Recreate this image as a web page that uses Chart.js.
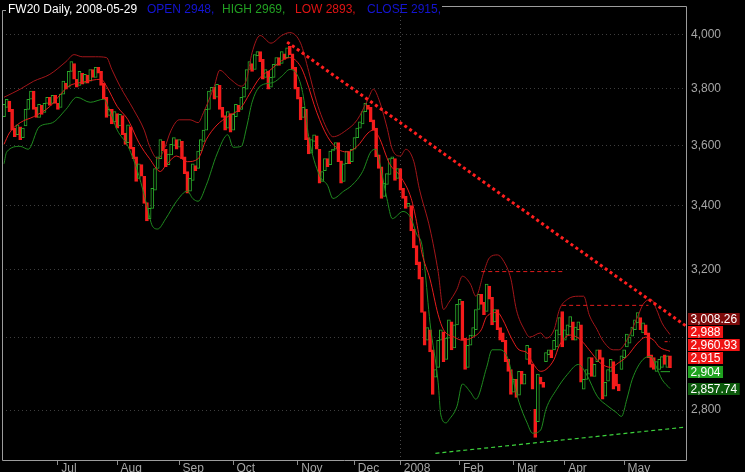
<!DOCTYPE html>
<html><head><meta charset="utf-8">
<script src="https://cdn.jsdelivr.net/npm/chart.js@4.4.1/dist/chart.umd.min.js"></script>
<style>html,body{margin:0;padding:0;background:#000;overflow:hidden}canvas{display:block}</style>
</head><body>
<canvas id="c" width="745" height="472"></canvas>
<script>
// ---- data (FW20 daily, bar index 0 = 2007-06-01, last = 2008-05-29) ----
const opens = [
3701,3734,3756,3727,3661,3638,3665,3628,3669,3727,
3763,3792,3734,3698,3741,3716,3748,3770,3748,3777,
3748,3734,3781,3821,3806,3864,3893,3835,3813,3857,
3821,3850,3828,3871,3842,3879,3864,3821,3770,3705,
3727,3683,3712,3669,3705,3644,3611,3665,3595,3562,
3490,3536,3497,3411,3359,3392,3451,3523,3556,3615,
3588,3536,3569,3601,3621,3595,3615,3562,3513,3448,
3483,3533,3523,3582,3615,3654,3727,3792,3806,3770,
3813,3734,3705,3661,3712,3654,3701,3741,3727,3770,
3799,3871,3893,3871,3922,3937,3908,3842,3864,3806,
3842,3886,3915,3893,3929,3915,3958,3929,3879,3806,
3770,3698,3727,3628,3575,3615,3634,3588,3480,3516,
3556,3536,3582,3588,3611,3549,3480,3539,3579,3546,
3588,3628,3661,3676,3719,3741,3734,3690,3661,3569,
3529,3431,3470,3503,3556,3556,3490,3523,3457,3431,
3398,3401,3326,3274,3224,3177,3075,2992,3022,2965,
2889,2916,2992,3016,2938,2998,3045,2970,3036,3096,
3105,2998,2916,2978,3004,3022,3081,3126,3102,3075,
3150,3117,3045,3081,3028,3013,2992,2938,2910,2848,
2883,2840,2905,2870,2938,2970,2924,2802,2769,2889,
2875,2932,2951,2965,2965,2973,3007,3075,2992,3007,
3030,3045,2992,3022,3036,2856,2883,2897,2943,2891,
2932,2965,2943,2837,2878,2905,2932,2897,2870,2910,
2943,2973,2984,3004,3022,3042,3057,3013,3036,3013,
2951,2943,2905,2910,2916,2951,2916,2948];
const highs = [
3770,3777,3763,3745,3672,3683,3676,3672,3745,3788,
3806,3806,3763,3756,3752,3763,3785,3781,3792,3788,
3763,3792,3842,3842,3879,3915,3908,3857,3879,3871,
3871,3864,3886,3893,3893,3893,3871,3835,3785,3745,
3741,3734,3727,3727,3719,3661,3690,3683,3621,3572,
3556,3556,3506,3431,3424,3474,3539,3595,3644,3634,
3605,3588,3628,3647,3638,3638,3628,3588,3523,3506,
3556,3556,3595,3638,3669,3748,3813,3828,3821,3828,
3824,3748,3719,3734,3727,3727,3763,3763,3792,3821,
3893,3926,3915,3944,3966,3958,3922,3893,3886,3864,
3908,3937,3944,3951,3955,3973,3973,3951,3890,3821,
3781,3748,3741,3647,3634,3654,3654,3601,3529,3572,
3572,3595,3605,3621,3621,3562,3556,3601,3595,3605,
3644,3683,3698,3741,3763,3756,3748,3705,3672,3588,
3539,3490,3588,3588,3588,3562,3539,3529,3474,3441,
3424,3411,3339,3287,3236,3188,3096,3057,3036,2978,
2932,3007,3036,3028,3016,3066,3057,3057,3117,3126,
3117,3007,2992,3028,3051,3102,3147,3194,3117,3177,
3165,3129,3093,3096,3045,3022,3004,2948,2924,2897,
2905,2921,2932,2916,2992,2984,2938,2815,2916,2905,
2889,2970,2978,2978,3007,3033,3081,3093,3036,3051,
3081,3057,3045,3063,3051,2905,2924,2959,2954,2938,
2976,2976,2959,2889,2921,2948,2943,2910,2883,2959,
2978,3022,3016,3045,3063,3087,3069,3057,3051,3022,
2965,2954,2943,2948,2959,2965,2959,2969];
const lows = [
3690,3719,3709,3644,3595,3621,3588,3615,3654,3716,
3748,3716,3683,3676,3698,3701,3734,3727,3734,3719,
3698,3719,3770,3781,3792,3842,3821,3792,3799,3777,
3806,3774,3813,3828,3828,3842,3799,3748,3683,3672,
3661,3661,3638,3654,3621,3582,3595,3572,3539,3464,
3474,3483,3385,3270,3339,3375,3438,3506,3539,3556,
3516,3474,3556,3588,3572,3572,3539,3490,3431,3434,
3464,3490,3503,3562,3598,3641,3712,3774,3748,3748,
3712,3672,3634,3638,3621,3638,3690,3698,3709,3756,
3785,3853,3850,3857,3900,3886,3821,3792,3777,3788,
3828,3871,3871,3879,3897,3900,3915,3853,3777,3734,
3672,3672,3605,3556,3562,3588,3572,3457,3464,3500,
3506,3516,3556,3572,3533,3457,3457,3523,3523,3529,
3556,3615,3647,3661,3705,3690,3669,3634,3549,3497,
3349,3408,3451,3490,3542,3470,3441,3438,3408,3379,
3379,3306,3254,3206,3159,3057,2910,2889,2938,2829,
2687,2905,2978,2921,2924,2987,2951,2959,3022,3057,
2978,2875,2897,2951,2978,3007,3057,3081,3051,3057,
3096,3022,3022,3004,2978,2978,2921,2889,2821,2829,
2821,2829,2851,2856,2924,2910,2842,2720,2753,2851,
2829,2910,2932,2932,2951,2965,2992,2965,2978,2998,
3022,2978,2978,3007,2861,2842,2870,2883,2878,2883,
2924,2927,2824,2829,2867,2894,2848,2851,2840,2899,
2932,2965,2970,2992,3010,3033,3010,3001,2992,2932,
2907,2899,2894,2902,2910,2916,2905,2893];
const closes = [
3745,3763,3719,3654,3631,3672,3621,3661,3727,3763,
3792,3727,3698,3745,3709,3748,3770,3741,3777,3748,
3727,3781,3828,3799,3864,3900,3835,3806,3864,3817,
3853,3821,3871,3842,3879,3857,3813,3763,3698,3727,
3676,3719,3661,3709,3638,3605,3672,3588,3556,3480,
3539,3497,3408,3352,3392,3457,3523,3562,3621,3582,
3529,3572,3605,3628,3588,3621,3556,3506,3441,3490,
3539,3516,3582,3621,3654,3727,3792,3806,3763,3817,
3727,3698,3654,3719,3647,3709,3745,3719,3770,3806,
3871,3900,3864,3926,3937,3900,3835,3871,3799,3842,
3890,3915,3886,3937,3908,3951,3926,3871,3799,3763,
3690,3734,3621,3572,3621,3638,3588,3474,3513,3556,
3529,3582,3588,3611,3546,3474,3539,3582,3539,3588,
3628,3661,3683,3719,3748,3727,3683,3654,3562,3523,
3424,3474,3506,3556,3562,3483,3523,3451,3424,3392,
3408,3320,3267,3215,3171,3072,2978,3028,2959,2842,
2910,2992,3022,2932,2998,3051,2965,3036,3096,3111,
2992,2910,2978,3007,3028,3081,3126,3096,3066,3156,
3111,3036,3081,3022,2992,2987,2932,2905,2842,2883,
2834,2905,2870,2897,2978,2924,2856,2728,2897,2870,
2861,2957,2965,2943,2992,3022,3057,2973,3022,3036,
3060,2992,3030,3045,2875,2883,2910,2943,2891,2924,
2965,2938,2829,2875,2910,2938,2856,2864,2851,2948,
2965,3010,3001,3030,3051,3072,3022,3042,3007,2943,
2916,2910,2932,2938,2946,2924,2948,2915];

const upperIdx = [0,6,11,17,23,26,29,34,38,40,43,48,52,54,57,59,62,65,69,72,74,78,80,84,88,90,92,95,99,103,106,110,113,116,120,122,127,131,135,137,139,142,144,147,149,152,154,158,161,163,165,168,170,173,175,178,180,183,185,188,190,193,195,199,201,204,206,209,213,215,217,220,222,226,228,231,235,237,240,242,244,247];
const upperVal = [3770,3799,3828,3853,3900,3926,3918,3918,3915,3871,3810,3727,3654,3598,3556,3579,3654,3690,3690,3680,3716,3810,3868,3835,3810,3835,3933,3998,3969,3998,4009,3969,3864,3752,3654,3631,3654,3690,3763,3799,3763,3665,3588,3565,3588,3546,3457,3326,3194,3081,3102,3141,3180,3156,3120,3194,3236,3245,3230,3171,3081,3022,3001,3013,2998,3022,3081,3111,3120,3120,3066,3022,2992,2965,2965,2992,3060,3096,3111,3081,3042,3008.26];
const middleIdx = [0,2,6,11,17,21,24,29,36,38,42,46,50,54,58,60,64,68,72,75,79,83,88,91,95,99,102,106,110,112,116,120,124,127,131,135,137,139,143,147,151,153,155,158,161,163,167,170,174,177,179,183,185,188,191,194,196,199,201,204,206,210,214,217,221,225,228,231,235,238,241,243,247];
const middleVal = [3605,3644,3680,3701,3737,3781,3810,3824,3835,3810,3737,3690,3611,3556,3513,3533,3565,3546,3556,3621,3672,3701,3734,3781,3842,3871,3897,3915,3882,3835,3716,3631,3588,3579,3598,3644,3654,3631,3539,3497,3424,3349,3251,3171,3066,3022,3001,2992,3001,3022,3060,3072,3051,3001,2965,2957,2929,2905,2910,2938,2978,3007,2992,2965,2929,2916,2929,2946,2984,3001,2992,2973,2960.93];
const lowerIdx = [0,1,6,9,13,18,23,27,32,37,39,42,46,50,53,55,57,60,64,68,70,72,75,79,83,85,88,90,92,95,100,103,106,109,111,113,117,120,122,126,129,133,136,138,139,142,144,148,151,153,155,156,158,161,162,164,165,168,170,173,175,179,181,184,187,189,191,194,196,199,201,205,209,213,216,220,224,227,229,231,233,237,240,242,244,247];
const lowerVal = [3539,3579,3598,3588,3665,3680,3727,3770,3752,3763,3727,3654,3598,3500,3401,3336,3326,3359,3415,3448,3424,3415,3467,3572,3638,3595,3598,3665,3752,3810,3824,3846,3871,3846,3774,3631,3500,3467,3424,3448,3467,3513,3579,3588,3556,3424,3359,3382,3359,3310,3276,3209,3042,2875,2787,2766,2774,2810,2870,2848,2829,2916,2965,2965,2938,2875,2821,2766,2739,2747,2802,2856,2897,2924,2897,2837,2810,2794,2783,2829,2883,2938,2946,2916,2883,2857.74];

const resistIdx = [105, 252.93];
const resistVal = [3973, 3033];
const supportIdx = [160, 252.93];
const supportVal = [2687, 2755];
const level1Idx = [177, 208];
const level1Val = [3194, 3194];
const level2Idx = [207, 239];
const level2Val = [3093, 3093];
const markRedIdx = [245, 247];
const markRedVal = [2988, 2988];
const markGreenIdx = [243.5, 247];
const markGreenVal = [2904, 2904];

const monthIdx = [20,42,65,85,109,130,147,169,189,208,230];
const monthLabels = ['Jul','Aug','Sep','Oct','Nov','Dec','2008','Feb','Mar','Apr','May'];
const yTicks = [2800,3000,3200,3400,3600,3800,4000];

const tagValues = [3008.26, 2988, 2960.93, 2915, 2904, 2857.74];
const tagColors = ['#7d0a0a','#f01414','#f01414','#f01414','#1fa21f','#0b5a0b'];

const titleTexts = ['FW20 Daily, 2008-05-29','OPEN 2948,','HIGH 2969,','LOW 2893,','CLOSE 2915,'];
const titleColors = ['#ffffff','#1414d2','#22a022','#e01414','#1414d2'];

// ---- build ----
const RED = '#f51c1c', GREEN = '#2aa82a';
const pts = (ix, vs) => ix.map((x, k) => ({x, y: vs[k]}));
const up = closes.map((c, i) => c >= opens[i]);
const wickData = closes.map((c, i) => ({x: i, y: [lows[i], highs[i]]}));
const bodyData = closes.map((c, i) => ({x: i, y: [opens[i], c]}));

Chart.defaults.font.family = '"Liberation Sans", Arial, sans-serif';

const decor = {
  id: 'decor',
  beforeDraw(chart) {
    const c = chart.ctx; c.save(); c.fillStyle = '#000'; c.fillRect(0, 0, chart.width, chart.height); c.restore();
  },
  afterDraw(chart) {
    const c = chart.ctx, a = chart.chartArea, ys = chart.scales.y;
    c.save();
    c.strokeStyle = '#9c9c9c'; c.lineWidth = 1; c.setLineDash([]);
    c.beginPath();
    c.moveTo(6, 10.5); c.lineTo(2.5, 10.5); c.lineTo(2.5, a.bottom + 0.5);
    c.lineTo(a.right + 0.5, a.bottom + 0.5); c.lineTo(a.right + 0.5, 6.5); c.lineTo(442, 6.5);
    c.stroke();
    c.font = '12px "Liberation Sans", Arial, sans-serif';
    c.textBaseline = 'alphabetic';
    const tx = [8, 147, 222, 295, 367];
    titleTexts.forEach((t, k) => { c.fillStyle = titleColors[k]; c.fillText(t, tx[k], 13); });
    const tags = tagValues.map((v, k) => ({v, bg: tagColors[k], y: ys.getPixelForValue(v)}))
      .sort((p, q) => p.v - q.v);
    for (let k = 1; k < tags.length; k++) tags[k].y = Math.min(tags[k].y, tags[k - 1].y - 13.2);
    c.textBaseline = 'middle';
    tags.forEach(t => {
      const s = t.v.toLocaleString('en-US', {maximumFractionDigits: 2});
      const w = c.measureText(s).width;
      c.fillStyle = t.bg; c.fillRect(688, Math.round(t.y - 6), w + 5, 12);
      c.fillStyle = '#ffffff'; c.fillText(s, 690.5, Math.round(t.y) + 0.5);
    });
    c.restore();
  }
};

new Chart(document.getElementById('c'), {
  type: 'bar',
  data: {
    datasets: [
      {type: 'line', data: pts(resistIdx, resistVal), borderColor: '#ff1e1e', borderWidth: 3, borderDash: [3, 3], pointRadius: 0, order: 1},
      {type: 'line', data: pts(supportIdx, supportVal), borderColor: '#3cd23c', borderWidth: 1.2, borderDash: [4, 3], pointRadius: 0, order: 1},
      {type: 'line', data: pts(level1Idx, level1Val), borderColor: '#e01c1c', borderWidth: 1, borderDash: [4, 3], pointRadius: 0, order: 1},
      {type: 'line', data: pts(level2Idx, level2Val), borderColor: '#e01c1c', borderWidth: 1, borderDash: [4, 3], pointRadius: 0, order: 1},
      {type: 'line', data: pts(markRedIdx, markRedVal), borderColor: '#e01c1c', borderWidth: 1, borderDash: [3, 2], pointRadius: 0, order: 1},
      {type: 'line', data: pts(markGreenIdx, markGreenVal), borderColor: '#2aa82a', borderWidth: 1, pointRadius: 0, order: 1},
      {type: 'line', data: pts(upperIdx, upperVal), borderColor: '#a3161a', borderWidth: 1, pointRadius: 0, cubicInterpolationMode: 'monotone', order: 3},
      {type: 'line', data: pts(middleIdx, middleVal), borderColor: '#e51c1c', borderWidth: 1, pointRadius: 0, cubicInterpolationMode: 'monotone', order: 3},
      {type: 'line', data: pts(lowerIdx, lowerVal), borderColor: '#1f8a1f', borderWidth: 1, pointRadius: 0, cubicInterpolationMode: 'monotone', order: 3},
      {data: bodyData, stack: 'c', barThickness: 3, borderWidth: 1, borderSkipped: false,
       backgroundColor: ctx => up[ctx.dataIndex] ? '#000000' : RED,
       borderColor: ctx => up[ctx.dataIndex] ? GREEN : RED, order: 8},
      {data: wickData, stack: 'c', barThickness: 1, borderWidth: 0,
       backgroundColor: ctx => up[ctx.dataIndex] ? GREEN : RED, order: 9}
    ]
  },
  options: {
    responsive: false, animation: false, devicePixelRatio: 1, events: [],
    layout: {padding: {top: 8, left: 2, right: 0, bottom: 0}},
    plugins: {legend: {display: false}, tooltip: {enabled: false}, title: {display: false}},
    scales: {
      x: {
        type: 'linear', min: -0.742, max: 252.93, offset: false,
        afterBuildTicks: s => { s.ticks = monthIdx.map(v => ({value: v})); },
        afterFit: s => { s.height = 12; s.paddingLeft = 0; s.paddingRight = 0; },
        ticks: {autoSkip: false, maxRotation: 0, minRotation: 0, align: 'start', padding: -4, color: '#a6a6a6',
          font: {size: 12},
          callback: v => { const k = monthIdx.indexOf(v); return k < 0 ? '' : ' ' + monthLabels[k]; }},
        grid: {offset: false, drawOnChartArea: true, drawTicks: true, tickLength: 5, tickColor: '#8c8c8c', tickBorderDash: [],
          color: ctx => (ctx.tick && ctx.tick.value === 147) ? '#4a4a4a' : 'rgba(0,0,0,0)', lineWidth: 1},
        border: {display: false, dash: [1, 3]}
      },
      y: {
        type: 'logarithmic', position: 'right', min: 2670, max: 4104,
        afterBuildTicks: s => { s.ticks = yTicks.map(v => ({value: v})); },
        afterFit: s => { s.width = 59; s.paddingTop = 0; s.paddingBottom = 0; },
        ticks: {color: '#a6a6a6', padding: 5, font: {size: 12},
          callback: v => v === 3000 ? '' : v.toLocaleString('en-US')},
        grid: {color: '#3e3e3e', drawTicks: false, lineWidth: 1},
        border: {display: false, dash: [1, 3]}
      }
    }
  },
  plugins: [decor]
});
</script>
</body></html>
